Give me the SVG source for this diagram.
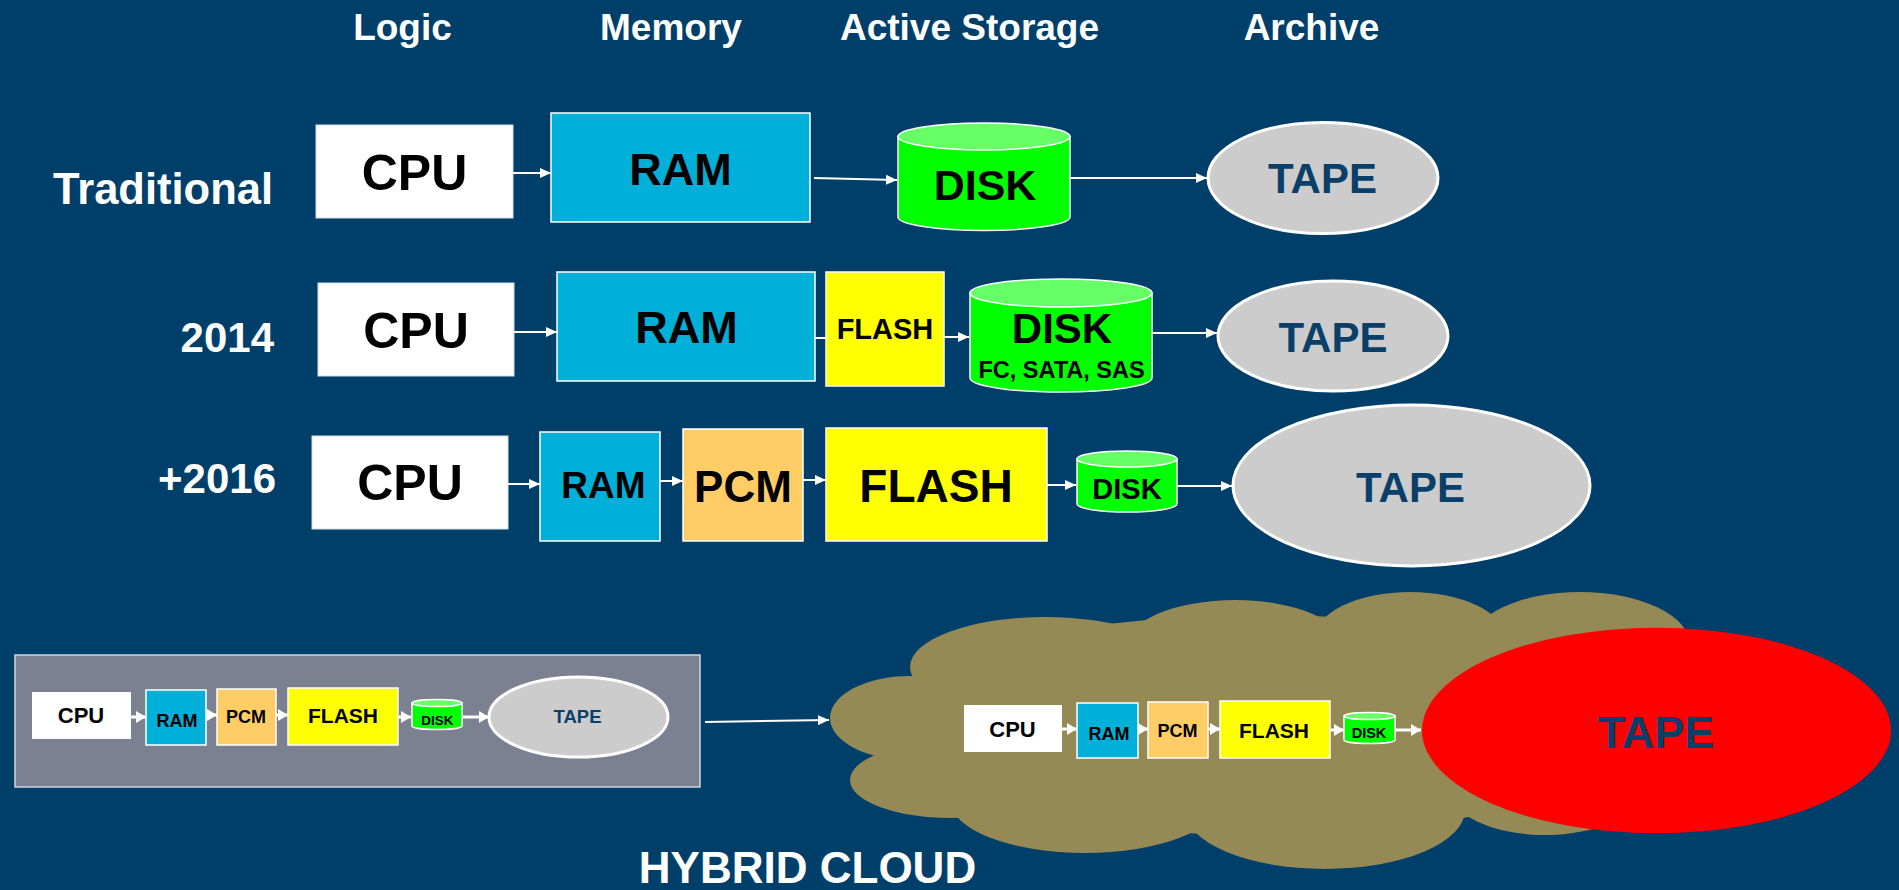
<svg xmlns="http://www.w3.org/2000/svg" width="1899" height="890" viewBox="0 0 1899 890">
  <style>
    text { font-family: "Liberation Sans", Arial, sans-serif; font-weight: bold; text-anchor: middle; }
    .hdr { fill: #ffffff; font-size: 37px; }
    .row { fill: #ffffff; font-size: 43px; text-anchor: end; }
    .lbl { fill: #000000; }
    .tape-t { fill: #0a3f6a; }
    .cpu { fill: #ffffff; stroke: #d8e0ea; stroke-width: 1; }
    .ram { fill: #00b0d8; stroke: #ffffff; stroke-width: 1.5; }
    .pcm { fill: #ffcc66; stroke: #ffffff; stroke-width: 1.5; }
    .flash { fill: #ffff00; stroke: #ffffff; stroke-width: 1.5; }
    .disk { fill: #00ff00; stroke: #ffffff; stroke-width: 1.5; }
    .disk-top { fill: #66ff66; stroke: #ffffff; stroke-width: 1.5; }
    .tape { fill: #cccccc; stroke: #ffffff; stroke-width: 3; }
    .conn { stroke: #ffffff; stroke-width: 2; fill: none; }
    .conn-s { stroke: #ffffff; stroke-width: 3; fill: none; }
    .cloud { fill: #958a55; }
  </style>
  <defs>
    <marker id="ah" markerUnits="userSpaceOnUse" markerWidth="11" markerHeight="10" refX="11" refY="5" orient="auto">
      <path d="M0,0 L11,5 L0,10 z" fill="#ffffff"/>
    </marker>
    <marker id="ahs" markerUnits="userSpaceOnUse" markerWidth="10" markerHeight="12" refX="10" refY="6" orient="auto">
      <path d="M0,0 L10,6 L0,12 z" fill="#ffffff"/>
    </marker>
  </defs>

  <!-- background -->
  <rect x="0" y="0" width="1899" height="890" fill="#003f6a"/>

  <!-- column headers -->
  <g id="headers">
    <text class="hdr" x="402.5" y="40">Logic</text>
    <text class="hdr" x="671" y="40">Memory</text>
    <text class="hdr" x="969.5" y="40">Active Storage</text>
    <text class="hdr" x="1311.5" y="40">Archive</text>
  </g>

  <!-- row labels -->
  <g id="row-labels">
    <text class="row" x="273" y="204" style="font-size:43.5px">Traditional</text>
    <text class="row" x="274" y="352" style="font-size:42px">2014</text>
    <text class="row" x="276" y="493" style="font-size:42px">+2016</text>
  </g>

  <!-- hybrid cloud backdrop -->
  <g id="cloud" class="cloud">
    <ellipse cx="1260" cy="725" rx="380" ry="110"/>
    <ellipse cx="910" cy="718" rx="80" ry="42"/>
    <ellipse cx="1045" cy="667" rx="135" ry="50"/>
    <ellipse cx="1235" cy="648" rx="110" ry="48"/>
    <ellipse cx="1410" cy="638" rx="95" ry="46"/>
    <ellipse cx="1580" cy="645" rx="110" ry="53"/>
    <ellipse cx="1660" cy="720" rx="70" ry="80"/>
    <ellipse cx="950" cy="780" rx="100" ry="38"/>
    <ellipse cx="1085" cy="800" rx="135" ry="53"/>
    <ellipse cx="1325" cy="810" rx="140" ry="59"/>
    <ellipse cx="1545" cy="790" rx="95" ry="45"/>
  </g>

  <!-- on-premises panel -->
  <g id="panel">
    <rect x="15" y="655" width="685" height="132" fill="#7b8191" stroke="#d0d4dc" stroke-width="1.5"/>
  </g>

  <!-- connectors -->
  <g id="connectors">
    <!-- traditional -->
    <line class="conn" x1="513" y1="173" x2="551" y2="173" marker-end="url(#ah)"/>
    <line class="conn" x1="814" y1="178" x2="897" y2="180" marker-end="url(#ah)"/>
    <line class="conn" x1="1070" y1="178" x2="1207" y2="178" marker-end="url(#ah)"/>
    <!-- 2014 -->
    <line class="conn" x1="514" y1="332" x2="557" y2="332" marker-end="url(#ah)"/>
    <line class="conn" x1="815" y1="338" x2="826" y2="338"/>
    <line class="conn" x1="944" y1="337" x2="969" y2="337" marker-end="url(#ah)"/>
    <line class="conn" x1="1152" y1="333" x2="1217" y2="333" marker-end="url(#ah)"/>
    <!-- 2016 -->
    <line class="conn" x1="508" y1="484" x2="540" y2="484" marker-end="url(#ah)"/>
    <line class="conn" x1="660" y1="481" x2="683" y2="481" marker-end="url(#ah)"/>
    <line class="conn" x1="803" y1="480" x2="826" y2="480" marker-end="url(#ah)"/>
    <line class="conn" x1="1047" y1="485" x2="1076" y2="485" marker-end="url(#ah)"/>
    <line class="conn" x1="1177" y1="486" x2="1232" y2="486" marker-end="url(#ah)"/>
    <!-- panel chain -->
    <line class="conn-s" x1="131" y1="717" x2="146" y2="717" marker-end="url(#ahs)"/>
    <line class="conn-s" x1="206" y1="715" x2="217" y2="715" marker-end="url(#ahs)"/>
    <line class="conn-s" x1="276" y1="715" x2="288" y2="715" marker-end="url(#ahs)"/>
    <line class="conn-s" x1="398" y1="717" x2="411" y2="717" marker-end="url(#ahs)"/>
    <line class="conn-s" x1="462" y1="717" x2="489" y2="717" marker-end="url(#ahs)"/>
    <!-- panel to cloud -->
    <line class="conn" x1="705" y1="722" x2="829" y2="720" marker-end="url(#ah)"/>
    <!-- cloud chain -->
    <line class="conn-s" x1="1062" y1="729" x2="1077" y2="729" marker-end="url(#ahs)"/>
    <line class="conn-s" x1="1138" y1="729" x2="1148" y2="729" marker-end="url(#ahs)"/>
    <line class="conn-s" x1="1208" y1="729" x2="1220" y2="729" marker-end="url(#ahs)"/>
    <line class="conn-s" x1="1330" y1="730" x2="1344" y2="730" marker-end="url(#ahs)"/>
    <line class="conn-s" x1="1394" y1="730" x2="1421" y2="730" marker-end="url(#ahs)"/>
  </g>

  <!-- traditional row -->
  <g id="t-cpu">
    <rect class="cpu" x="316" y="125" width="197" height="93"/>
    <text class="lbl" x="414.5" y="190" style="font-size:50px">CPU</text>
  </g>
  <g id="t-ram">
    <rect class="ram" x="551" y="113" width="259" height="109"/>
    <text class="lbl" x="680.5" y="185" style="font-size:45px">RAM</text>
  </g>
  <g id="t-disk">
    <path class="disk" d="M898,136.5 V217 A86,13.5 0 0 0 1070,217 V136.5 Z"/>
    <ellipse class="disk-top" cx="984" cy="136.5" rx="86" ry="13.5"/>
    <text class="lbl" x="985" y="200" style="font-size:43px">DISK</text>
  </g>
  <g id="t-tape">
    <ellipse class="tape" cx="1323" cy="178" rx="115" ry="55.5"/>
    <text class="tape-t" x="1322.5" y="193" style="font-size:42px">TAPE</text>
  </g>

  <!-- 2014 row -->
  <g id="a-cpu">
    <rect class="cpu" x="318" y="283" width="196" height="93"/>
    <text class="lbl" x="416" y="348" style="font-size:50px">CPU</text>
  </g>
  <g id="a-ram">
    <rect class="ram" x="557" y="272" width="258" height="109"/>
    <text class="lbl" x="686.5" y="343" style="font-size:45px">RAM</text>
  </g>
  <g id="a-flash">
    <rect class="flash" x="826" y="272" width="118" height="114"/>
    <text class="lbl" x="885" y="339" style="font-size:29px">FLASH</text>
  </g>
  <g id="a-disk">
    <path class="disk" d="M970,293 V378 A91,14 0 0 0 1152,378 V293 Z"/>
    <ellipse class="disk-top" cx="1061" cy="293" rx="91" ry="14"/>
    <text class="lbl" x="1062" y="343" style="font-size:42px">DISK</text>
    <text class="lbl" x="1061.5" y="378" style="font-size:23.5px">FC, SATA, SAS</text>
  </g>
  <g id="a-tape">
    <ellipse class="tape" cx="1333" cy="336" rx="115" ry="55"/>
    <text class="tape-t" x="1333" y="352" style="font-size:42px">TAPE</text>
  </g>

  <!-- 2016 row -->
  <g id="b-cpu">
    <rect class="cpu" x="312" y="436" width="196" height="93"/>
    <text class="lbl" x="410" y="500" style="font-size:50px">CPU</text>
  </g>
  <g id="b-ram">
    <rect class="ram" x="540" y="432" width="120" height="109"/>
    <text class="lbl" x="603.5" y="498" style="font-size:37px">RAM</text>
  </g>
  <g id="b-pcm">
    <rect class="pcm" x="683" y="429" width="120" height="112"/>
    <text class="lbl" x="743" y="502" style="font-size:44px">PCM</text>
  </g>
  <g id="b-flash">
    <rect class="flash" x="826" y="428" width="221" height="113"/>
    <text class="lbl" x="936" y="502" style="font-size:46px">FLASH</text>
  </g>
  <g id="b-disk">
    <path class="disk" d="M1077,459 V504 A50,8 0 0 0 1177,504 V459 Z"/>
    <ellipse class="disk-top" cx="1127" cy="459" rx="50" ry="8"/>
    <text class="lbl" x="1127" y="499" style="font-size:29px">DISK</text>
  </g>
  <g id="b-tape">
    <ellipse class="tape" cx="1411.5" cy="485.5" rx="178.5" ry="80.5"/>
    <text class="tape-t" x="1410.5" y="502" style="font-size:42px">TAPE</text>
  </g>

  <!-- on-premises chain -->
  <g id="p-cpu">
    <rect x="32" y="692" width="99" height="47" fill="#ffffff"/>
    <text class="lbl" x="81" y="723" style="font-size:22px">CPU</text>
  </g>
  <g id="p-ram">
    <rect class="ram" x="146" y="690" width="60" height="55"/>
    <text class="lbl" x="177" y="727" style="font-size:18px">RAM</text>
  </g>
  <g id="p-pcm">
    <rect class="pcm" x="217" y="689" width="59" height="56"/>
    <text class="lbl" x="246" y="723" style="font-size:18px">PCM</text>
  </g>
  <g id="p-flash">
    <rect class="flash" x="288" y="688" width="110" height="57"/>
    <text class="lbl" x="343" y="723" style="font-size:21px">FLASH</text>
  </g>
  <g id="p-disk">
    <path class="disk" d="M412,703 V726 A25,3.5 0 0 0 462,726 V703 Z"/>
    <ellipse class="disk-top" cx="437" cy="703" rx="25" ry="3.5"/>
    <text class="lbl" x="437.5" y="725" style="font-size:13.5px">DISK</text>
  </g>
  <g id="p-tape">
    <ellipse class="tape" cx="578.5" cy="717" rx="89.5" ry="40"/>
    <text class="tape-t" x="577.5" y="723" style="font-size:18.5px">TAPE</text>
  </g>

  <!-- cloud chain -->
  <g id="c-cpu">
    <rect x="964" y="705" width="98" height="47" fill="#ffffff"/>
    <text class="lbl" x="1012.5" y="737" style="font-size:22px">CPU</text>
  </g>
  <g id="c-ram">
    <rect class="ram" x="1077" y="703" width="61" height="55"/>
    <text class="lbl" x="1109" y="740" style="font-size:18px">RAM</text>
  </g>
  <g id="c-pcm">
    <rect class="pcm" x="1148" y="702" width="60" height="56"/>
    <text class="lbl" x="1177.5" y="737" style="font-size:18px">PCM</text>
  </g>
  <g id="c-flash">
    <rect class="flash" x="1220" y="701" width="110" height="57"/>
    <text class="lbl" x="1274" y="738" style="font-size:21px">FLASH</text>
  </g>
  <g id="c-disk">
    <path class="disk" d="M1344,716 V740 A25.5,3.5 0 0 0 1395,740 V716 Z"/>
    <ellipse class="disk-top" cx="1369.5" cy="716" rx="25.5" ry="3.5"/>
    <text class="lbl" x="1369" y="738" style="font-size:14.5px">DISK</text>
  </g>
  <g id="c-tape">
    <ellipse cx="1656.5" cy="730.5" rx="234.5" ry="102.8" fill="#ff0000"/>
    <text class="tape-t" x="1656" y="748" style="font-size:45px">TAPE</text>
  </g>

  <g id="cloud-label">
    <text x="807.5" y="883" style="font-size:44px; fill:#ffffff">HYBRID CLOUD</text>
  </g>
</svg>
